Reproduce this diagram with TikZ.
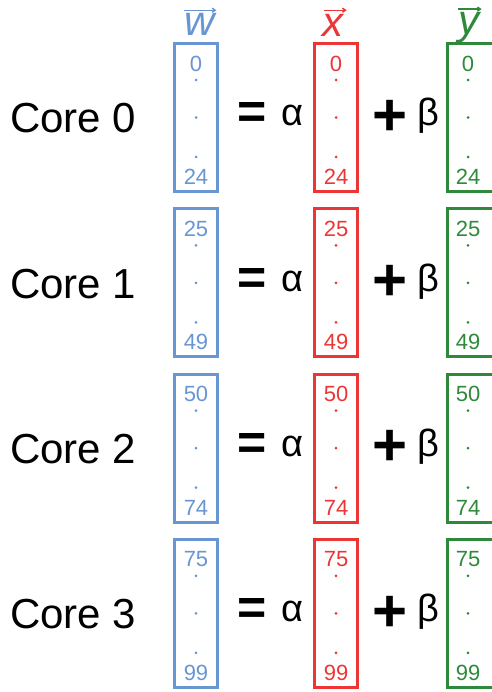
\documentclass[tikz,border=0pt]{standalone}
\usepackage{fontspec}
\setmainfont{Liberation Sans}
\usepackage{tikz}
\usetikzlibrary{arrows.meta, positioning, calc}
\definecolor{vwBlue}{HTML}{6796D3}
\definecolor{vxRed}{HTML}{EC3535}
\definecolor{vyGreen}{HTML}{2E8A3A}
\newcommand\bigtext{\fontsize{42pt}{48pt}\selectfont}
\newcommand\coeftext{\fontsize{38pt}{44pt}\selectfont}
\newcommand\eqtext{\fontsize{50pt}{56pt}\selectfont\bfseries}
\newcommand\plustext{\fontsize{60pt}{66pt}\selectfont\bfseries}
\newcommand\idxtext{\fontsize{22pt}{26pt}\selectfont}
\tikzset{
  vecbox/.style={draw=#1, line width=3pt, minimum width=43pt, minimum height=148pt, inner sep=0pt},
  idx/.style={text=#1, font=\idxtext, inner sep=0pt},
  dotmark/.style={circle, fill=#1, inner sep=0pt, minimum size=3pt},
  corelabel/.style={font=\bigtext, anchor=base west, inner sep=0pt},
  coef/.style={font=\coeftext, anchor=base, inner sep=0pt},
  op/.style={inner sep=0pt},
  veclabel/.style={text=#1, font=\bigtext\itshape, inner sep=0pt},
  vecarrow/.style={draw=#1, line width=1.4pt, -{Straight Barb[length=3pt, width=4pt]}}
}
\begin{document}
\begin{tikzpicture}[x=1pt, y=-1pt]
  \useasboundingbox (0,0) rectangle (491,692);
  % vector names
  \node[veclabel=vwBlue] (wlab) at (200,24) {w};
  \node[veclabel=vxRed] (xlab) at (333,25) {x};
  \node[veclabel=vyGreen, anchor=base] (ylab) at (469,35) {y};
  \draw[vecarrow=vwBlue] ([xshift=-1pt,yshift=2.5pt]wlab.north west) -- ([xshift=1pt,yshift=2.5pt]wlab.north east);
  \draw[vecarrow=vxRed] ([xshift=2pt,yshift=3.5pt]xlab.north west) -- ([xshift=3pt,yshift=3.5pt]xlab.north east);
  \draw[vecarrow=vyGreen] ([xshift=0pt,yshift=3.5pt]ylab.north west) -- ([xshift=2pt,yshift=3.5pt]ylab.north east);
  % one row per core (green box runs off the right edge)
  \foreach \i/\lo/\hi in {0/0/24, 1/25/49, 2/50/74, 3/75/99} {
    \pgfmathsetmacro{\yc}{117.5+165.3*\i}
    \node[corelabel] (core\i) at (10,\yc+15.5) {Core \i};
    \node[vecbox=vwBlue] (wbox\i) at (196,\yc) {};
    \node[vecbox=vxRed] (xbox\i) at (336,\yc) {};
    \node[vecbox=vyGreen, minimum width=57pt] (ybox\i) at (476,\yc) {};
    \node[op, font=\eqtext] (eq\i) at (252,\yc-1.5) {=};
    \node[coef] (alpha\i) at (292,\yc+8.5) {α};
    \node[op, font=\plustext] (plus\i) at (390,\yc) {+};
    \node[coef] (beta\i) at (428,\yc+8.5) {β};
    \foreach \bx/\col/\dx in {wbox/vwBlue/0, xbox/vxRed/0, ybox/vyGreen/-8} {
      \node[idx=\col] (\bx\i lo) at ([xshift=\dx pt, yshift=54pt]\bx\i.center) {\lo};
      \node[idx=\col] (\bx\i hi) at ([xshift=\dx pt, yshift=-59.5pt]\bx\i.center) {\hi};
      \node[dotmark=\col] at ([xshift=\dx pt, yshift=37.5pt]\bx\i.center) {};
      \node[dotmark=\col] at ([xshift=\dx pt]\bx\i.center) {};
      \node[dotmark=\col] at ([xshift=\dx pt, yshift=-39.5pt]\bx\i.center) {};
    }
  }
\end{tikzpicture}
\end{document}
